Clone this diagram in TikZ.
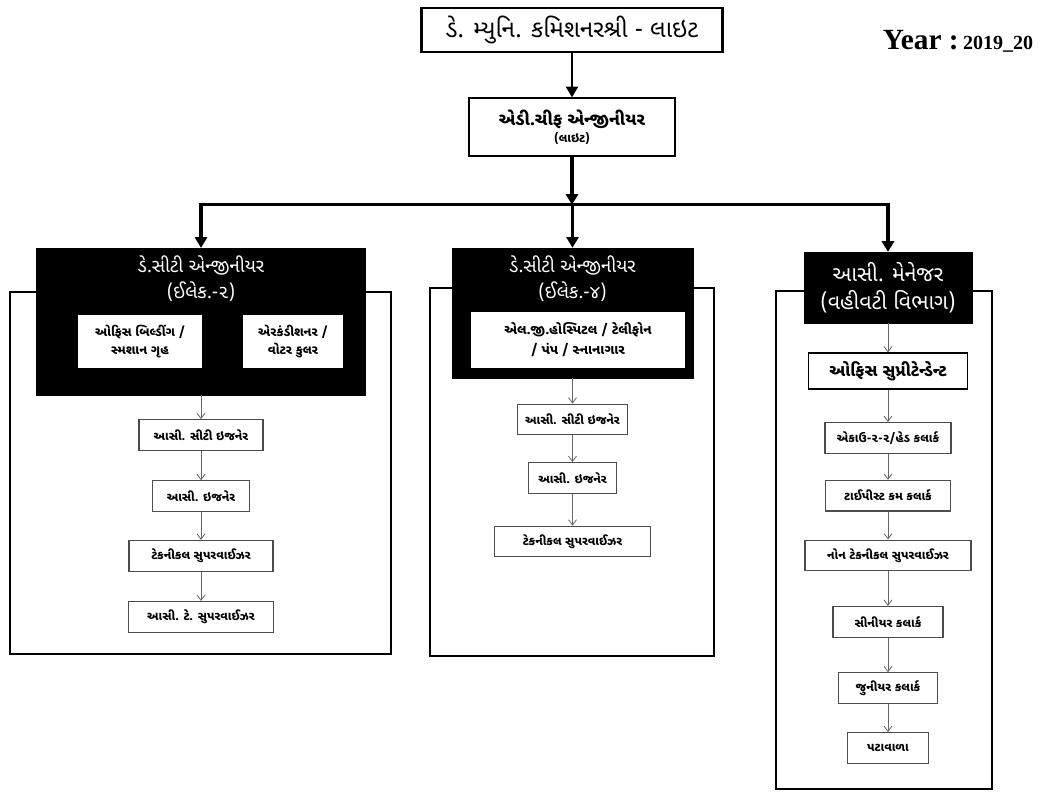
\documentclass[tikz,border=0pt]{standalone}
\usepackage{fontspec}
\setmainfont{Liberation Serif}
\newfontfamily\guj[Script=Gujarati]{Noto Sans Gujarati UI}
\usetikzlibrary{
    arrows.meta,
    calc,
    positioning,
}
\tikzstyle{headbox}=[draw,rectangle,line width=2pt,inner sep=1mm,font=\guj\fontsize{18}{20}\selectfont]
\tikzstyle{chiefbox}=[draw,rectangle,line width=1.6pt,align=center,minimum width=154pt,minimum height=43pt]
\tikzstyle{bossbox}=[fill=black,draw=black,rectangle]
\tikzstyle{bosstitle}=[text=white,align=center,inner sep=0pt,font=\guj\fontsize{14}{19}\selectfont]
\tikzstyle{unitbox}=[fill=white,rectangle,align=center,inner sep=1pt,font=\guj\bfseries\fontsize{9.5}{14}\selectfont]
\tikzstyle{postbox}=[draw=black!70,rectangle,line width=.8pt,minimum height=23pt,inner sep=1pt,font=\guj\bfseries\fontsize{9}{11}\selectfont]
\tikzstyle{deptframe}=[draw,line width=1.6pt]
\tikzstyle{mainarrow}=[line width=2.4pt,-{Triangle[length=8pt,width=9pt]}]
\tikzstyle{postarrow}=[draw=black!60,line width=.6pt,-{Straight Barb[length=4pt,width=6pt]}]
\tikzset{
    >=latex
}
\begin{document}
\begin{tikzpicture}[x=.75pt,y=-.75pt]
    \useasboundingbox (0,0) rectangle (1051,797);
    % frames behind the departments
    \draw[deptframe] (10,292) rectangle (391,654);
    \draw[deptframe] (430,288) rectangle (714,656);
    \draw[deptframe] (776,291) rectangle (992,789);

    % top
    \node[headbox,minimum width=226pt,minimum height=33pt] (commissioner) at (572,30) {ડે. મ્યુનિ. કમિશનરશ્રી - લાઇટ};
    \node[chiefbox,below=33pt of commissioner] (chief)
        {{\guj\bfseries\fontsize{13}{15}\selectfont એડી.ચીફ એન્જીનીયર}\\[1pt]{\guj\bfseries\fontsize{9}{11}\selectfont (લાઇટ)}};
    \node[font=\bfseries] (year) at (958,41) {{\fontsize{22}{24}\selectfont Year :} {\fontsize{15}{17}\selectfont 2019\_20}};

    % departments
    \node[bossbox,minimum width=247pt,minimum height=110pt] (elec2) at (201,321.5) {};
    \node[bosstitle,below=6pt] at (elec2.north) {ડે.સીટી એન્જીનીયર\\(ઈલેક.-૨)};
    \node[unitbox,minimum width=93pt,minimum height=40pt] (bldg) at (140,341.5) {ઓફિસ બિલ્ડીંગ /\\સ્મશાન ગૃહ};
    \node[unitbox,minimum width=75pt,minimum height=40pt] (cooler) at (293,341.5) {એરકંડીશનર /\\વોટર કુલર};

    \node[bossbox,minimum width=181pt,minimum height=97.5pt] (elec4) at (572.5,313) {};
    \node[bosstitle,below=6pt] at (elec4.north) {ડે.સીટી એન્જીનીયર\\(ઈલેક.-૪)};
    \node[unitbox,minimum width=160pt,minimum height=42pt,font=\guj\bfseries\fontsize{10}{15}\selectfont] (hosp) at (578,340) {એલ.જી.હોસ્પિટલ / ટેલીફોન\\/ પંપ / સ્નાનાગાર};

    \node[bossbox,minimum width=126pt,minimum height=53pt,text=white,align=center,font=\guj\fontsize{16}{21}\selectfont] (admin) at (888,287.5) {આસી. મેનેજર\\(વહીવટી વિભાગ)};

    % posts
    \node[postbox,minimum width=93pt,below=18pt of elec2] (e2p1) {આસી. સીટી ઇજનેર};
    \node[postbox,minimum width=73pt,below=22pt of e2p1] (e2p2) {આસી. ઇજનેર};
    \node[postbox,minimum width=108pt,below=21pt of e2p2] (e2p3) {ટેકનીકલ સુપરવાઈઝર};
    \node[postbox,minimum width=109pt,below=22pt of e2p3] (e2p4) {આસી. ટે. સુપરવાઈઝર};

    \node[postbox,minimum width=83pt,below=19pt of elec4] (e4p1) {આસી. સીટી ઇજનેર};
    \node[postbox,minimum width=66pt,below=20pt of e4p1] (e4p2) {આસી. ઇજનેર};
    \node[postbox,minimum width=117pt,below=24pt of e4p2] (e4p3) {ટેકનીકલ સુપરવાઈઝર};

    \node[postbox,draw=black,line width=1.2pt,minimum width=119pt,minimum height=27pt,font=\guj\bfseries\fontsize{12.5}{14}\selectfont,below=22pt of admin] (supdt) {ઓફિસ સુપ્રીટેન્ડેન્ટ};
    \node[postbox,minimum width=94.5pt,below=24pt of supdt] (headclerk) {એકાઉ-૨-૨/હેડ કલાર્ક};
    \node[postbox,minimum width=94pt,below=19.5pt of headclerk] (typist) {ટાઈપીસ્ટ કમ કલાર્ક};
    \node[postbox,minimum width=124.5pt,below=21pt of typist] (nontech) {નોન ટેકનીકલ સુપરવાઈઝર};
    \node[postbox,minimum width=82.5pt,below=26pt of nontech] (senior) {સીનીયર કલાર્ક};
    \node[postbox,minimum width=74pt,below=26pt of senior] (junior) {જુનીયર કલાર્ક};
    \node[postbox,minimum width=61pt,below=21pt of junior] (peon) {પટાવાળા};

    % connectors
    \draw[mainarrow,line width=1.6pt] (commissioner) -- (chief);
    \coordinate[below=36pt of chief] (split);
    \draw[mainarrow] (chief) -- (split);
    \draw[line width=2.4pt,line cap=rect] (split -| elec2) -- (split -| admin);
    \foreach \n in {elec2,elec4,admin}
        \draw[mainarrow] (split -| \n) -- (\n);
    \foreach \a/\b in {elec2/e2p1,e2p1/e2p2,e2p2/e2p3,e2p3/e2p4,
                       elec4/e4p1,e4p1/e4p2,e4p2/e4p3,
                       admin/supdt,supdt/headclerk,headclerk/typist,typist/nontech,nontech/senior,senior/junior,junior/peon}
        \draw[postarrow] (\a) -- (\b);
\end{tikzpicture}
\end{document}
